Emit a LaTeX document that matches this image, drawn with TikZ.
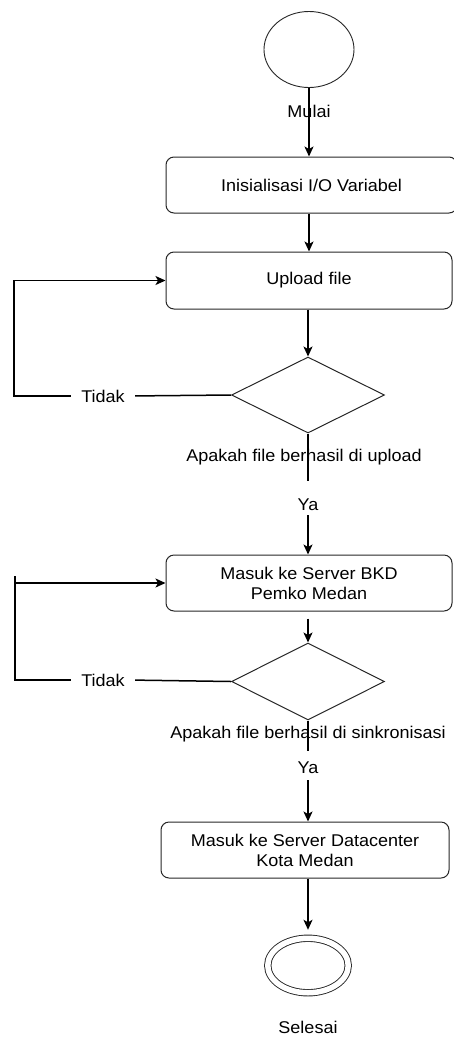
\documentclass[tikz,border=0pt]{standalone}
\usepackage{fontspec}
\setmainfont{Liberation Sans}[FakeStretch=1.06]
\usetikzlibrary{shapes.geometric,arrows.meta}

\begin{document}
\begin{tikzpicture}[x=1pt,y=-1pt,
  every node/.style={font=\fontsize{17}{20}\selectfont, text=black},
  proc/.style={draw=black!85, rounded corners=8pt, line width=1pt, inner sep=0pt, align=center},
  dec/.style={diamond, draw=black!85, line width=1pt, minimum width=153pt, minimum height=76pt, inner sep=0pt},
  terminal/.style={ellipse, draw=black!85, line width=0.9pt, inner sep=0pt},
  link/.style={line width=1.5pt},
  arr/.style={link, -{Stealth[length=10pt,width=9pt,inset=2.5pt]}},
]
\path[use as bounding box] (0,0) rectangle (453,1037);

% --- nodes ---
\node[terminal, minimum width=90pt, minimum height=76pt] (start) at (309,49.5) {};
\node (mulai) at (309,111) {Mulai};
\node[proc, minimum width=291pt, minimum height=56pt] (init) at (311.5,185) {Inisialisasi I/O Variabel};
\node[proc, minimum width=286pt, minimum height=57pt] (upload) at (309,280.5) {Upload file};
\node[dec] (cek1) at (308,395) {};
\node (q1) at (304,457) {Apakah file berhasil di upload};
\node (ya1) at (308,505) {Ya};
\node (tidak1) at (103,396) {Tidak};
\coordinate (back1) at (14,396);

\node[proc, minimum width=286pt, minimum height=56pt] (bkd) at (309,583) {Masuk ke Server BKD\\Pemko Medan};
\node[dec, minimum height=77pt] (cek2) at (308,681.5) {};
\node (q2) at (308,734) {Apakah file berhasil di sinkronisasi};
\node (ya2) at (308,768) {Ya};
\node (tidak2) at (103,680) {Tidak};
\coordinate (back2) at (15,680);
\coordinate (tick2) at (15,576);

\node[proc, minimum width=288pt, minimum height=56pt] (dc) at (305,850) {Masuk ke Server Datacenter\\Kota Medan};
\node[terminal, double, double distance=5.5pt, minimum width=80.5pt, minimum height=54.5pt] (end) at (308,965.5) {};
\node (selesai) at (308,1027) {Selesai};

% --- connectors ---
\draw[arr] (start.south) -- (start.south |- init.north);
\draw[arr] (upload.north |- init.south) -- (upload.north);
\draw[arr] (cek1.north |- upload.south) -- (cek1.north);
\draw[link, shorten >=15pt] (cek1.south) -- (ya1.north);
\draw[arr, shorten <=1pt] (ya1.south) -- (ya1.south |- bkd.north);
\draw[link, shorten >=7pt] (cek1.west) -- (tidak1.east);
\draw[arr, shorten <=7pt] (tidak1.west) -- (back1) |- (upload.west);

\draw[arr, shorten <=7pt] (cek2.north |- bkd.south) -- (cek2.north);
\draw[link, shorten >=8pt] (cek2.south) -- (ya2.north);
\draw[arr, shorten <=3pt] (ya2.south) -- (ya2.south |- dc.north);
\draw[link, shorten >=7pt] (cek2.west) -- (tidak2.east);
\draw[arr, shorten <=7pt] (tidak2.west) -- (back2) |- (bkd.west);
\draw[link] (back2 |- bkd.west) -- (tick2);

\draw[arr, shorten >=8pt] (end.north |- dc.south) -- (end.north);
\end{tikzpicture}
\end{document}
